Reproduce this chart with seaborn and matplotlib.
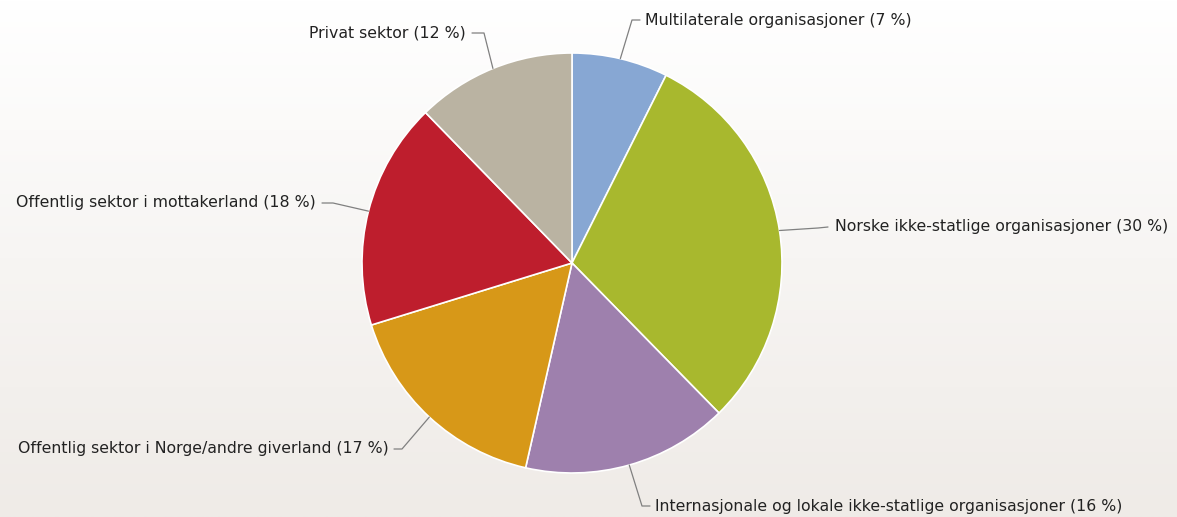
#!/usr/bin/env python3
"""Pie chart: distribution of aid by partner type (Norwegian labels)."""
import matplotlib
matplotlib.use("Agg")
import matplotlib.pyplot as plt
import numpy as np
import seaborn as sns

# data, clockwise from 12 o'clock
categories = [
    "Multilaterale organisasjoner",
    "Norske ikke-statlige organisasjoner",
    "Internasjonale og lokale ikke-statlige organisasjoner",
    "Offentlig sektor i Norge/andre giverland",
    "Offentlig sektor i mottakerland",
    "Privat sektor",
]
shares = [7.4, 30.3, 15.9, 16.7, 17.5, 12.3]
pct_labels = ["7", "30", "16", "17", "18", "12"]

colors = ["#87a7d3", "#a8b82e", "#9e80ad", "#d79818", "#be1e2d", "#bab3a2"]

# label layout in pixel coords (y from top): elbow point, line end, text x, alignment
label_layout = [
    ((632, 20), (640, 20), 645, "left"),
    ((818, 228), (828, 227), 835, "left"),
    ((642, 506), (650, 506), 655, "left"),
    ((402, 449), (394, 449), 389, "right"),
    ((333, 203), (322, 203), 316, "right"),
    ((484, 33), (472, 33), 466, "right"),
]

W, H = 1177, 517
CX, CY, R = 572, 263, 210

sns.set_theme(style="white")
plt.rcParams["font.family"] = ["DejaVu Sans"]

fig = plt.figure(figsize=(W / 100, H / 100), dpi=100)
ax = fig.add_axes([0, 0, 1, 1])

# soft vertical background gradient
grad = np.linspace(0, 1, 256).reshape(-1, 1)
top = np.array([1.0, 1.0, 1.0])
bottom = np.array([0xEF, 0xEB, 0xE7]) / 255
img = top + grad * (bottom - top)
ax.imshow(img[:, None, :].repeat(2, axis=1), extent=(0, W, 0, H), aspect="auto", zorder=0)

wedges, _ = ax.pie(
    shares,
    colors=colors,
    startangle=90,
    counterclock=False,
    center=(CX, H - CY),
    radius=R,
    frame=True,
    wedgeprops=dict(edgecolor="white", linewidth=1.2),
)
ax.set_xlim(0, W)
ax.set_ylim(0, H)
ax.set_aspect("equal")
ax.set_axis_off()

for wedge, name, pct, (elbow, end, tx, ha) in zip(wedges, categories, pct_labels, label_layout):
    mid = np.deg2rad((wedge.theta1 + wedge.theta2) / 2)
    sx = CX + R * np.cos(mid)
    sy = (H - CY) + R * np.sin(mid)
    xs = [sx, elbow[0], end[0]]
    ys = [sy, H - elbow[1], H - end[1]]
    ax.plot(xs, ys, color="#808080", lw=0.9, zorder=3)
    ax.text(tx, H - end[1], f"{name} ({pct} %)", ha=ha, va="center",
            fontsize=11.3, color="#222222", zorder=4)

fig.savefig("out.png", dpi=100)
plt.close(fig)
